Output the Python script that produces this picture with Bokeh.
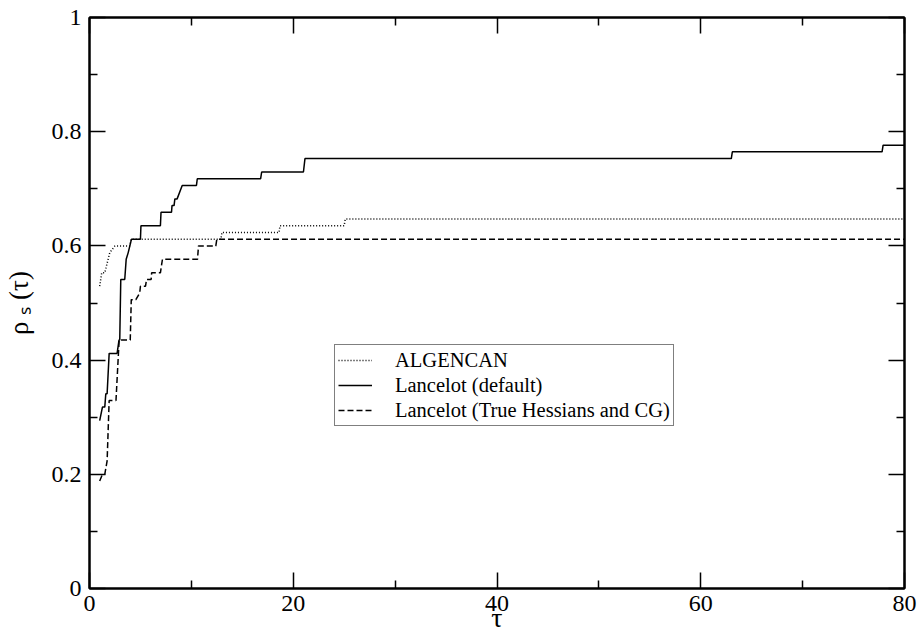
from bokeh.plotting import figure
from bokeh.models import LinearAxis, FixedTicker, Range1d, NumeralTickFormatter
from bokeh.embed import file_html
from bokeh.resources import INLINE

# ---- data (performance profile, fraction of 85 problems) ----
n_problems = 85

tau_algencan = [1.0, 1.2, 1.5, 1.99, 2.5, 3.95, 4.1, 12.9, 13.0, 18.6, 18.7, 25.0, 25.1, 80.0]
cnt_algencan = [45, 47, 47, 50, 51, 51, 52, 52, 53, 53, 54, 54, 55, 55]

tau_lancelot = [1.0, 1.27, 1.5, 1.6, 1.73, 1.93, 2.71, 2.9, 2.97, 3.07, 3.46, 3.6, 3.8, 4.12,
                5.0, 5.05, 6.96, 7.02, 8.05, 8.1, 8.3, 8.38, 8.6, 9.1, 10.5, 10.58, 16.8,
                16.9, 21.0, 21.15, 63.0, 63.1, 77.8, 77.9, 80.0]
cnt_lancelot = [25, 27, 27, 29, 29, 35, 35, 37, 37, 46, 46, 49, 50, 52,
                52, 54, 54, 56, 56, 57, 57, 58, 58, 60, 60, 61, 61,
                62, 62, 64, 64, 65, 65, 66, 66]

tau_truehess = [1.0, 1.27, 1.5, 1.73, 1.93, 2.6, 2.91, 4.0, 4.1, 4.55, 4.93, 5.0, 5.5, 5.6,
                6.05, 6.1, 6.96, 7.16, 10.6, 10.7, 12.4, 12.5, 80.0]
cnt_truehess = [16, 17, 17, 19, 28, 28, 37, 37, 43, 43, 44, 45, 45, 46,
                46, 47, 47, 49, 49, 51, 51, 52, 52]

series_names = ["ALGENCAN", "Lancelot (default)", "Lancelot (True Hessians and CG)"]

x_ticks = [0, 20, 40, 60, 80]
x_minor = [10, 30, 50, 70]
y_ticks = [0, 0.2, 0.4, 0.6, 0.8, 1.0]
y_minor = [0.1, 0.3, 0.5, 0.7, 0.9]

x_title = "τ"
y_title = "ρ ₛ (τ)"

FONT = "Liberation Serif"

p = figure(width=918, height=636, x_range=Range1d(0, 80), y_range=Range1d(0, 1),
           output_backend="svg", toolbar_location=None,
           min_border_left=88, min_border_right=14, min_border_top=17, min_border_bottom=48)
p.grid.visible = False
p.outline_line_color = "black"
p.outline_line_width = 2
p.background_fill_color = "white"
p.border_fill_color = "white"


def style_axis(ax, labels=True):
    ax.axis_line_width = 2
    ax.axis_line_color = "black"
    ax.major_tick_in = 16
    ax.major_tick_out = 0
    ax.minor_tick_in = 8
    ax.minor_tick_out = 0
    ax.major_tick_line_width = 1.5
    ax.minor_tick_line_width = 1.5
    ax.major_tick_line_color = "black"
    ax.minor_tick_line_color = "black"
    ax.major_label_text_font = FONT
    ax.major_label_text_color = "black"
    ax.axis_label_text_font = FONT
    ax.axis_label_text_font_style = "normal"
    ax.axis_label_text_color = "black"
    if labels:
        ax.major_label_text_font_size = "24px"
    else:
        ax.major_label_text_font_size = "0px"
        ax.major_label_text_alpha = 0


p.xaxis.ticker = FixedTicker(ticks=x_ticks, minor_ticks=x_minor)
p.yaxis.ticker = FixedTicker(ticks=y_ticks, minor_ticks=y_minor)
p.yaxis.formatter = NumeralTickFormatter(format="0.[0]")
for ax in p.xaxis:
    style_axis(ax)
    ax.major_label_standoff = 7
    ax.axis_label = x_title
    ax.axis_label_text_font_size = "28px"
    ax.axis_label_standoff = -12
for ax in p.yaxis:
    style_axis(ax)
    ax.major_label_standoff = 8
    ax.axis_label = y_title
    ax.axis_label_text_font_size = "27px"
    ax.axis_label_standoff = 15

top = LinearAxis(ticker=FixedTicker(ticks=x_ticks, minor_ticks=x_minor))
style_axis(top, labels=False)
p.add_layout(top, "above")
right = LinearAxis(ticker=FixedTicker(ticks=y_ticks, minor_ticks=y_minor))
style_axis(right, labels=False)
p.add_layout(right, "right")

rho_alg = [c / n_problems for c in cnt_algencan]
rho_lan = [c / n_problems for c in cnt_lancelot]
rho_tru = [c / n_problems for c in cnt_truehess]

p.line(tau_algencan, rho_alg, line_color="black", line_width=1.5, line_dash="1 2",
       legend_label=series_names[0])
p.line(tau_lancelot, rho_lan, line_color="black", line_width=1.5,
       legend_label=series_names[1])
p.line(tau_truehess, rho_tru, line_color="black", line_width=1.5, line_dash="6 3",
       legend_label=series_names[2])

lg = p.legend[0]
lg.location = (245, 162)
lg.padding = 3
lg.margin = 0
lg.spacing = 1
lg.glyph_height = 24
lg.label_height = 24
lg.glyph_width = 34
lg.label_standoff = 23
lg.label_text_font = FONT
lg.label_text_font_size = "20.5px"
lg.label_text_color = "black"
lg.border_line_color = "black"
lg.border_line_width = 1.5
lg.background_fill_color = "white"
lg.background_fill_alpha = 1

open("out.html", "w").write(file_html(p, INLINE))
